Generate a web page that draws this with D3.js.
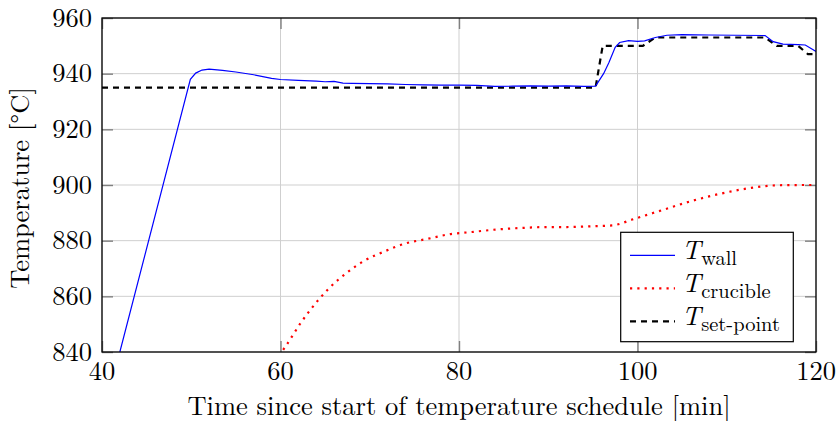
<!DOCTYPE html>
<html>
<head>
<meta charset="utf-8">
<script src="https://cdn.jsdelivr.net/npm/d3@7"></script>
<style>
  html, body { margin: 0; padding: 0; background: #fff; }
</style>
</head>
<body>
<svg id="chart" width="836" height="421"></svg>
<script>
// Time axis [min] and temperatures [°C]
const wallTime = [42.0, 49.9, 50.5, 51.2, 52.0, 53.5, 55, 57, 59, 60, 62, 64, 65, 66, 67, 68, 70, 72, 74, 76, 78, 80, 82, 84, 86, 88, 90, 92, 94, 95.3, 96.2, 96.8, 97.5, 98.0, 99.0, 100, 100.8, 102, 103.3, 105, 108, 111, 114.3, 115.2, 116.3, 118, 118.8, 120];
const wallTemp = [840, 938.0, 940.2, 941.3, 941.6, 941.2, 940.6, 939.6, 938.3, 937.9, 937.6, 937.3, 937.1, 937.2, 936.6, 936.5, 936.4, 936.3, 936.1, 936.0, 935.9, 935.9, 935.8, 935.4, 935.5, 935.6, 935.5, 935.6, 935.4, 935.5, 940, 944, 949.5, 951.2, 951.9, 951.6, 951.8, 953.0, 953.8, 954.0, 953.9, 953.8, 953.7, 951.5, 950.6, 950.4, 950.3, 948.0];

const crucibleTime = [60.3, 60.5, 62.3, 64.35, 65.5, 67.4, 69.4, 71.7, 74.0, 76.4, 78.9, 81.4, 83.8, 87.2, 90, 92.1, 95, 97.2, 99.6, 102.8, 106.0, 109.2, 112.4, 115.8, 119.3, 120];
const crucibleTemp = [840.8, 841.7, 850.6, 859.1, 863.1, 868.4, 872.8, 876.2, 879.0, 880.6, 882.3, 883.1, 883.9, 884.6, 884.9, 884.9, 885.2, 885.5, 887.8, 891.0, 894.2, 896.8, 898.8, 899.9, 900.0, 900.0];

const setTime = [40, 95.3, 96.1, 100.6, 102, 114.3, 115.6, 118, 119.1, 120];
const setTemp = [935, 935, 950, 950, 953, 953, 950, 950, 947, 947];

const xTicks = [40, 60, 80, 100, 120];
const yTicks = [840, 860, 880, 900, 920, 940, 960];

const xLabel = "Time since start of temperature schedule [min]";
const yLabel = "Temperature [°C]";
const legendSubs = ["wall", "crucible", "set-point"];

const FONT = '"Latin Modern Roman", "Liberation Serif", serif';
const FS = 26.5;

const margin = { left: 102, top: 18, right: 20, bottom: 69 };
const W = 836, H = 421;
const iw = W - margin.left - margin.right;
const ih = H - margin.top - margin.bottom;

const svg = d3.select("#chart").attr("font-family", FONT);
const g = svg.append("g").attr("transform", `translate(${margin.left},${margin.top})`);

const x = d3.scaleLinear().domain([40, 120]).range([0, iw]);
const y = d3.scaleLinear().domain([840, 960]).range([ih, 0]);

// grid
g.append("g").selectAll("line").data(xTicks).join("line")
  .attr("x1", d => x(d)).attr("x2", d => x(d)).attr("y1", 0).attr("y2", ih)
  .attr("stroke", "#cfcfcf").attr("stroke-width", 1);
g.append("g").selectAll("line").data(yTicks).join("line")
  .attr("y1", d => y(d)).attr("y2", d => y(d)).attr("x1", 0).attr("x2", iw)
  .attr("stroke", "#cfcfcf").attr("stroke-width", 1);

// inward ticks on all four sides
const tickLen = 11;
const axB = g.append("g").attr("transform", `translate(0,${ih})`)
  .call(d3.axisTop(x).tickValues(xTicks).tickSize(tickLen).tickFormat(""));
const axT = g.append("g")
  .call(d3.axisBottom(x).tickValues(xTicks).tickSize(tickLen).tickFormat(""));
const axL = g.append("g")
  .call(d3.axisRight(y).tickValues(yTicks).tickSize(tickLen).tickFormat(""));
const axR = g.append("g").attr("transform", `translate(${iw},0)`)
  .call(d3.axisLeft(y).tickValues(yTicks).tickSize(tickLen).tickFormat(""));
[axB, axT, axL, axR].forEach(a => {
  a.select(".domain").remove();
  a.selectAll(".tick line").attr("stroke", "#808080").attr("stroke-width", 1.4);
});

// tick labels
g.append("g").selectAll("text").data(xTicks).join("text")
  .attr("x", d => x(d)).attr("y", ih + 27.5)
  .attr("text-anchor", "middle").attr("font-size", FS).attr("font-family", FONT)
  .text(d => d);
g.append("g").selectAll("text").data(yTicks).join("text")
  .attr("x", -10).attr("y", d => y(d) + 8.5)
  .attr("text-anchor", "end").attr("font-size", FS).attr("font-family", FONT)
  .text(d => d);

// clip to the plotting area
svg.append("defs").append("clipPath").attr("id", "plotclip")
  .append("rect").attr("width", iw).attr("height", ih);
const plot = g.append("g").attr("clip-path", "url(#plotclip)");

const line = d3.line().x(d => x(d[0])).y(d => y(d[1]));
const smooth = d3.line().x(d => x(d[0])).y(d => y(d[1])).curve(d3.curveMonotoneX);

const crucible = d3.zip(crucibleTime, crucibleTemp);
const wall = d3.zip(wallTime, wallTemp);
const setpoint = d3.zip(setTime, setTemp);

plot.append("path").datum(crucible).attr("d", smooth)
  .attr("fill", "none").attr("stroke", "#ff0000").attr("stroke-width", 2.2)
  .attr("stroke-dasharray", "2.2,5.1");
plot.append("path").datum(setpoint).attr("d", line)
  .attr("fill", "none").attr("stroke", "#000").attr("stroke-width", 2.2)
  .attr("stroke-dasharray", "6,5");
plot.append("path").datum(wall).attr("d", line)
  .attr("fill", "none").attr("stroke", "#0000ff").attr("stroke-width", 1.2);

// frame
g.append("rect").attr("width", iw).attr("height", ih)
  .attr("fill", "none").attr("stroke", "#000").attr("stroke-width", 1.3);

// axis labels
svg.append("text").attr("x", margin.left + iw / 2).attr("y", H - 6)
  .attr("text-anchor", "middle").attr("font-size", FS).attr("font-family", FONT)
  .text(xLabel);
svg.append("text")
  .attr("transform", `translate(29,${margin.top + ih / 2 + 3}) rotate(-90)`)
  .attr("text-anchor", "middle").attr("font-size", FS).attr("font-family", FONT)
  .text(yLabel);

// legend
const lg = g.append("g").attr("transform", `translate(${x(120) - 195.3},${y(840) - 119.7})`);
lg.append("rect").attr("x", 0).attr("y", 0).attr("width", 172.6).attr("height", 109.4)
  .attr("fill", "#fff").attr("stroke", "#000").attr("stroke-width", 1.2);
const styles = [
  { stroke: "#0000ff", width: 1.2, dash: null },
  { stroke: "#ff0000", width: 2.2, dash: "2.2,5.1" },
  { stroke: "#000", width: 2.2, dash: "6,5" }
];
const rowY = [23, 56, 89];
legendSubs.forEach((s, i) => {
  const st = styles[i];
  lg.append("line").attr("x1", 9.3).attr("x2", 54.3).attr("y1", rowY[i]).attr("y2", rowY[i])
    .attr("stroke", st.stroke).attr("stroke-width", st.width)
    .attr("stroke-dasharray", st.dash);
  // italic symbol, then its subscript as a separate text placed right after it
  const sym = lg.append("text").attr("x", 61).attr("y", rowY[i] + 3.5)
    .attr("font-size", FS).attr("font-family", FONT).attr("font-style", "italic")
    .text("T");
  const w = sym.node().getComputedTextLength();
  lg.append("text").attr("x", 61 + w + 0.5).attr("y", rowY[i] + 10)
    .attr("font-size", 20.5).attr("font-family", FONT)
    .text(s);
});
</script>
</body>
</html>
